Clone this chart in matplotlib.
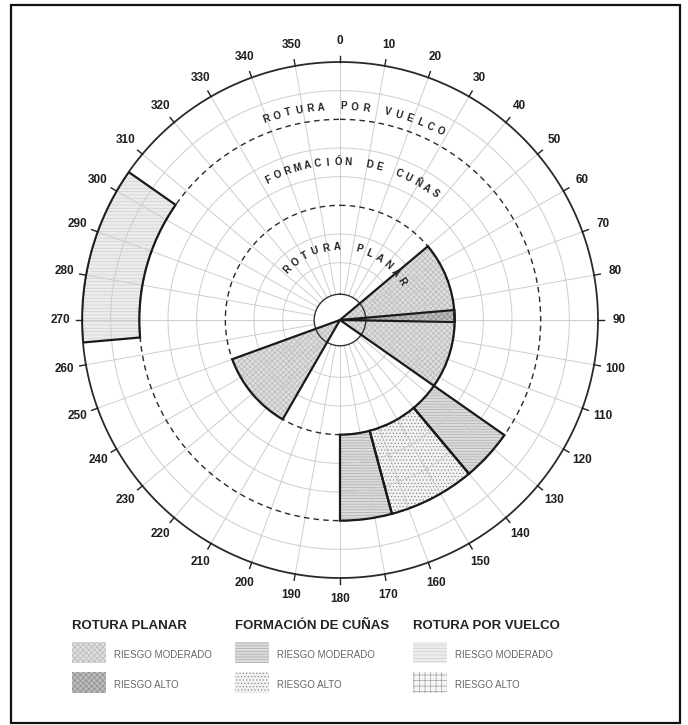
import numpy as np
import matplotlib
matplotlib.use("Agg")
import matplotlib.pyplot as plt
from matplotlib.patches import Rectangle

plt.rcParams['font.family'] = ['Liberation Sans', 'DejaVu Sans']
plt.rcParams['hatch.linewidth'] = 0.5

# sectors (compass degrees, clockwise from north) and risk level
planar_start = [50, 85, 210]
planar_end = [125, 91, 250]
planar_risk = ['moderado', 'alto', 'moderado']

cunas_start = [125, 140, 165]
cunas_end = [140, 165, 180]
cunas_risk = ['moderado', 'alto', 'moderado']

vuelco_start = [265]
vuelco_end = [305]
vuelco_risk = ['moderado']

# zone limits in ring units
zones = {'planar': (0, 4), 'cunas': (4, 7), 'vuelco': (7, 9)}

dir_labels = [str(d) for d in range(0, 360, 10)]

# fill styles: facecolor, hatch colour, hatch
styles = {
    ('planar', 'moderado'): ('#dedede', '#b8b8b8', 'xxxxxx'),
    ('planar', 'alto'): ('#bcbcbc', '#8e8e8e', 'xxxxxx'),
    ('cunas', 'moderado'): ('#dcdcdc', '#ababab', '------'),
    ('cunas', 'alto'): ('#f2f2f2', '#8a8a8a', '.....'),
    ('vuelco', 'moderado'): ('#ececec', '#d0d0d0', '-----'),
    ('vuelco', 'alto'): ('#f6f6f6', '#a0a0a0', '+++'),
}

fig = plt.figure(figsize=(6.88, 7.25), dpi=100)

# overlay in pixel coordinates for frame and legend
lay = fig.add_axes([0, 0, 1, 1])
lay.set_xlim(0, 688)
lay.set_ylim(725, 0)
lay.axis('off')
lay.add_patch(Rectangle((11, 5), 669, 718, fill=False, ec='#111', lw=1.6))

cx, cy, R = 340, 320, 258
ax = fig.add_axes([(cx - R) / 688, (725 - cy - R) / 725, 2 * R / 688, 2 * R / 725],
                  projection='polar')
ax.set_theta_zero_location('N')
ax.set_theta_direction(-1)
ax.set_ylim(0, 9)
ax.grid(False)
ax.set_xticks([])
ax.set_yticks([])
ax.spines['polar'].set_visible(False)
ax.patch.set_visible(False)


def draw_sectors(zone, starts, ends, risks):
    r0, r1 = zones[zone]
    for s, e, rk in zip(starts, ends, risks):
        fc, hc, hatch = styles[(zone, rk)]
        th = np.deg2rad((s + e) / 2)
        w = np.deg2rad(e - s)
        ax.bar(th, r1 - r0, width=w, bottom=r0, color=fc, edgecolor=hc,
               hatch=hatch, lw=0, zorder=1)
        ax.bar(th, r1 - r0, width=w, bottom=r0, fill=False, edgecolor='#1a1a1a',
               lw=1.6, zorder=4)


draw_sectors('planar', planar_start, planar_end, planar_risk)
draw_sectors('cunas', cunas_start, cunas_end, cunas_risk)
draw_sectors('vuelco', vuelco_start, vuelco_end, vuelco_risk)

# grid
full = np.linspace(0, 2 * np.pi, 721)
for r in [2, 3, 5, 6, 8]:
    ax.plot(full, np.full_like(full, r), color='#cdcdcd', lw=0.7, zorder=2)
for r in [4, 7]:
    ax.plot(full, np.full_like(full, r), color='#2a2a2a', lw=1.0,
            dashes=(4, 3), zorder=3)
ax.plot(full, np.full_like(full, 9), color='#2a2a2a', lw=1.3, zorder=3, clip_on=False)
ax.plot(full, np.full_like(full, 0.9), color='#333', lw=1.0, zorder=3)

for i, lab in enumerate(dir_labels):
    t = np.deg2rad(i * 10)
    ax.plot([t, t], [0.9, 9], color='#cdcdcd', lw=0.7, zorder=2)
    ax.plot([t, t], [9, 9.22], color='#222', lw=1.0, zorder=3, clip_on=False)
    ax.text(t, 9.75, lab, ha='center', va='center', fontsize=8.5,
            fontweight='bold', color='#1e1e1e')


def arc_text(s, r, start, step):
    for k, ch in enumerate(s):
        a = start + k * step
        ax.text(np.deg2rad(a), r, ch, rotation=-a, rotation_mode='anchor',
                ha='center', va='center', fontsize=7, fontweight='bold',
                color='#222', zorder=5)


arc_text('ROTURA POR VUELCO', 7.45, -20, 3.0)
arc_text('FORMACIÓN DE CUÑAS', 5.5, -27, 3.76)
arc_text('ROTURA PLANAR', 2.55, -46, 8.7)

# legend
titles = ['ROTURA PLANAR', 'FORMACIÓN DE CUÑAS', 'ROTURA POR VUELCO']
legend_zones = ['planar', 'cunas', 'vuelco']
col_x = [72, 235, 413]
for title, zone, x0 in zip(titles, legend_zones, col_x):
    lay.text(x0, 626, title, ha='left', va='center', fontsize=9.5,
             fontweight='bold', color='#222')
    for rk, y0, lab in [('moderado', 642, 'RIESGO MODERADO'), ('alto', 672, 'RIESGO ALTO')]:
        fc, hc, hatch = styles[(zone, rk)]
        lay.add_patch(Rectangle((x0, y0), 34, 21, facecolor=fc, edgecolor=hc,
                                hatch=hatch, lw=0))
        lay.text(x0 + 42, y0 + 13, lab, ha='left', va='center', fontsize=7,
                 color='#666')

fig.savefig('out.png', dpi=100)
